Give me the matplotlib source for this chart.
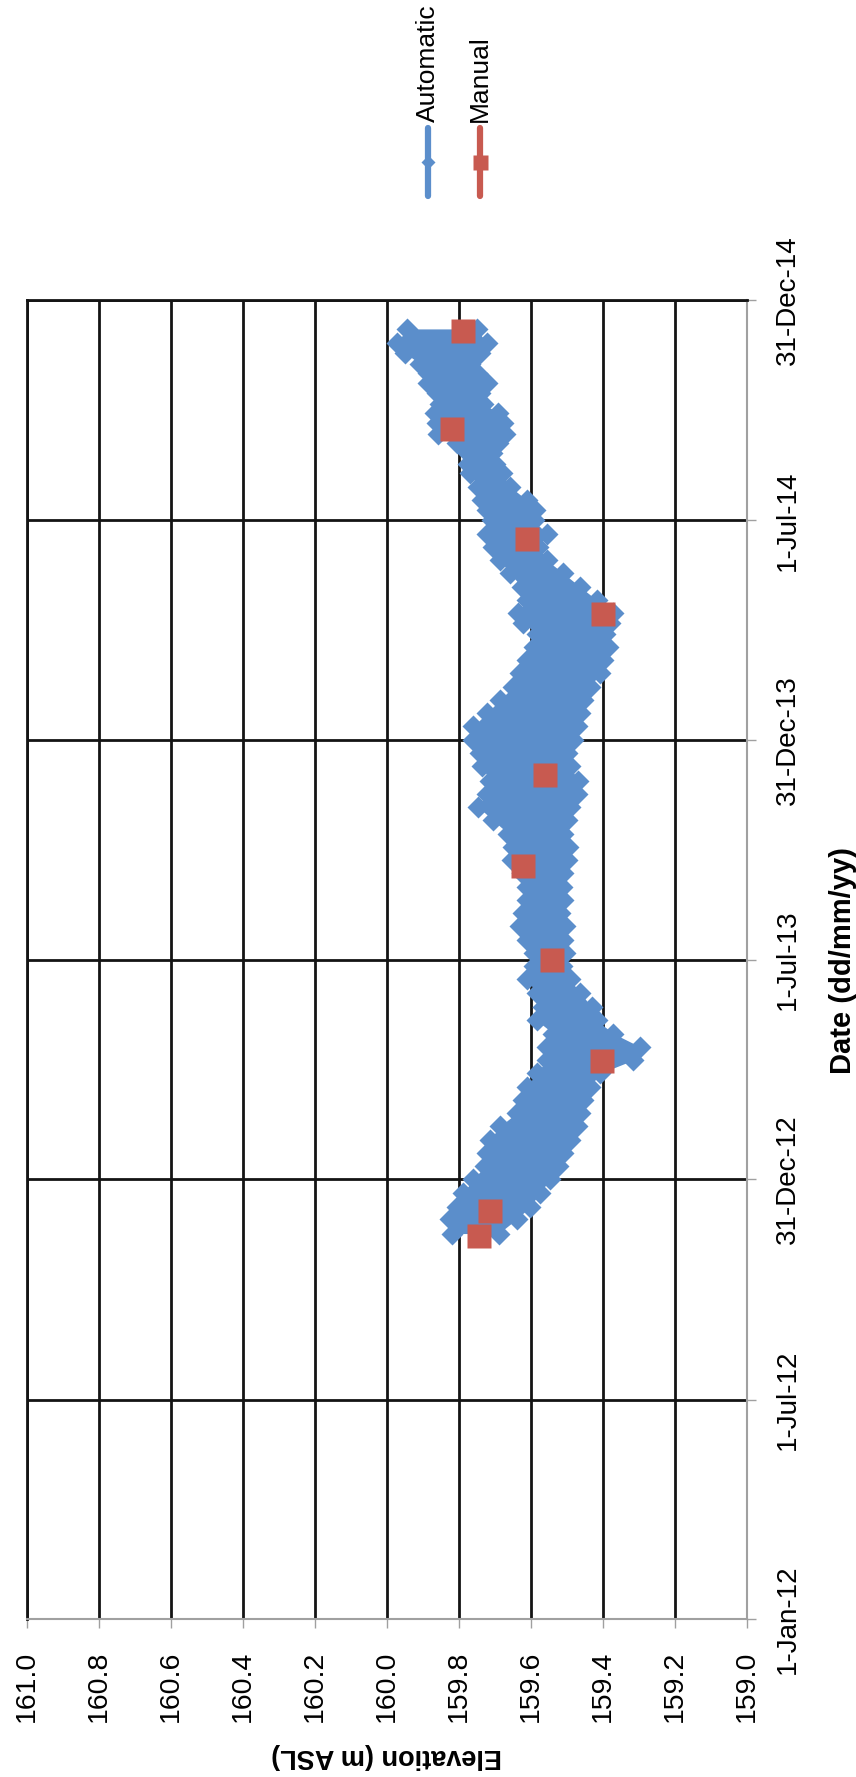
import matplotlib
matplotlib.use("Agg")
import matplotlib.pyplot as plt
import matplotlib.dates as mdates
from matplotlib.lines import Line2D
import pandas as pd

plt.rcParams['font.family'] = ['Liberation Sans', 'DejaVu Sans']

# ---------------- data ----------------
# Automatic logger: envelope of the daily readings (upper / lower elevation)
auto_dates = [
    "2012-11-16", "2012-11-28", "2012-12-08", "2012-12-20", "2012-12-31",
    "2013-01-11", "2013-01-22", "2013-02-02", "2013-02-13", "2013-02-24",
    "2013-03-07", "2013-03-18", "2013-03-29", "2013-04-09", "2013-04-20",
    "2013-05-01", "2013-05-12", "2013-05-23", "2013-06-04", "2013-06-15",
    "2013-06-26", "2013-07-07", "2013-07-18", "2013-07-29", "2013-08-09",
    "2013-08-20", "2013-08-31", "2013-09-11", "2013-09-22", "2013-10-03",
    "2013-10-14", "2013-10-25", "2013-11-05", "2013-11-16", "2013-11-27",
    "2013-12-09", "2013-12-20", "2013-12-31", "2014-01-11", "2014-01-22",
    "2014-02-02", "2014-02-13", "2014-02-24", "2014-03-07", "2014-03-18",
    "2014-03-29", "2014-04-07", "2014-04-15", "2014-04-26", "2014-05-07",
    "2014-05-18", "2014-05-29", "2014-06-09", "2014-06-20", "2014-07-01",
    "2014-07-10", "2014-07-18", "2014-07-29", "2014-08-09", "2014-08-17",
    "2014-08-26", "2014-09-03", "2014-09-11", "2014-09-20", "2014-09-28",
    "2014-10-06", "2014-10-15", "2014-10-23", "2014-10-31", "2014-11-08",
    "2014-11-17", "2014-11-25", "2014-12-07",
]
auto_high = [
    159.820, 159.825, 159.806, 159.788, 159.760,
    159.728, 159.723, 159.714, 159.686, 159.640,
    159.621, 159.612, 159.584, 159.556, 159.556,
    159.538, 159.584, 159.566, 159.584, 159.612,
    159.593, 159.593, 159.612, 159.631, 159.621,
    159.612, 159.612, 159.626, 159.654, 159.649,
    159.663, 159.705, 159.746, 159.723, 159.714,
    159.737, 159.742, 159.760, 159.760, 159.723,
    159.686, 159.649, 159.631, 159.612, 159.593,
    159.584, 159.621, 159.635, 159.612, 159.626,
    159.658, 159.686, 159.705, 159.723, 159.709,
    159.723, 159.737, 159.746, 159.769, 159.774,
    159.774, 159.806, 159.857, 159.862, 159.867,
    159.853, 159.862, 159.885, 159.885, 159.908,
    159.950, 159.973, 159.945,
]
auto_low = [
    159.690, 159.640, 159.603, 159.575, 159.547,
    159.524, 159.510, 159.492, 159.473, 159.464,
    159.455, 159.436, 159.408, 159.316, 159.297,
    159.371, 159.418, 159.431, 159.464, 159.492,
    159.515, 159.506, 159.510, 159.506, 159.519,
    159.510, 159.515, 159.510, 159.501, 159.496,
    159.510, 159.501, 159.492, 159.473, 159.469,
    159.492, 159.501, 159.482, 159.473, 159.464,
    159.455, 159.436, 159.408, 159.399, 159.385,
    159.394, 159.381, 159.371, 159.418, 159.464,
    159.510, 159.556, 159.580, 159.556, 159.593,
    159.589, 159.612, 159.658, 159.681, 159.700,
    159.709, 159.691, 159.672, 159.677, 159.691,
    159.732, 159.742, 159.723, 159.751, 159.769,
    159.742, 159.723, 159.751,
]

# Manual readings
manual_dates = ["2012-11-14", "2012-12-05", "2013-04-08", "2013-07-01", "2013-09-17",
                "2013-12-02", "2014-04-14", "2014-06-16", "2014-09-15", "2014-12-05"]
manual_elev = [159.744, 159.713, 159.404, 159.542, 159.621,
               159.561, 159.400, 159.612, 159.819, 159.789]

elev_ticks = [161.0, 160.8, 160.6, 160.4, 160.2, 160.0, 159.8, 159.6, 159.4, 159.2, 159.0]
date_ticks = ["2012-01-01", "2012-07-01", "2012-12-31", "2013-07-01",
              "2013-12-31", "2014-07-01", "2014-12-31"]
date_tick_labels = ["1-Jan-12", "1-Jul-12", "31-Dec-12", "1-Jul-13",
                    "31-Dec-13", "1-Jul-14", "31-Dec-14"]

series_names = ["Automatic", "Manual"]

# ---------------- style ----------------
BLUE = "#5B8ECB"
RED = "#C85A50"
GRID = "#141414"
AXIS = "#A0A0A0"

W, H = 856, 1777
fig = plt.figure(figsize=(W / 100, H / 100), dpi=100)
fig.patch.set_facecolor("white")

ax = fig.add_axes([27 / W, 1 - 1619 / H, (747 - 27) / W, (1619 - 300) / H])

ad = mdates.date2num(pd.to_datetime(auto_dates))
md = mdates.date2num(pd.to_datetime(manual_dates))
tick_num = mdates.date2num(pd.to_datetime(date_ticks))

# automatic band
ax.fill_betweenx(ad, auto_low, auto_high, color=BLUE, lw=0, zorder=2)
ax.plot(auto_high, ad, ls="none", marker="D", ms=11, color=BLUE, mec="none", zorder=2)
ax.plot(auto_low, ad, ls="none", marker="D", ms=11, color=BLUE, mec="none", zorder=2)
# manual markers
ax.plot(manual_elev, md, ls="none", marker="s", ms=17, color=RED, mec="none", zorder=3)

ax.set_xlim(161.0, 159.0)
ax.set_ylim(tick_num[0], tick_num[-1])

ax.set_xticks(elev_ticks)
ax.set_xticklabels([f"{v:.1f}" for v in elev_ticks], rotation=90, fontsize=20.5)
ax.yaxis.tick_right()
ax.set_yticks(tick_num)
ax.set_yticklabels(date_tick_labels, rotation=90, fontsize=20)
for lab in ax.get_yticklabels():
    lab.set_va("center")

ax.tick_params(axis="x", direction="out", length=6.5, width=1, color=AXIS, pad=16)
ax.tick_params(axis="y", direction="out", length=6.5, width=1, color=AXIS, pad=13.5,
               left=False, right=True)

ax.set_axisbelow(True)
ax.grid(True, color=GRID, lw=2.0)

for side in ("left", "top"):
    ax.spines[side].set_color(GRID)
    ax.spines[side].set_linewidth(2.0)
for side in ("right", "bottom"):
    ax.spines[side].set_color(AXIS)
    ax.spines[side].set_linewidth(1.5)

# axis titles (chart is rotated 90 degrees)
fig.text(387 / W, 1 - 1756 / H, "Elevation (m ASL)", rotation=180, ha="center",
         va="center", fontsize=19.5, fontweight="bold")
fig.text(843 / W, 1 - 960 / H, "Date (dd/mm/yy)", rotation=90, ha="center",
         va="center", fontsize=21, fontweight="bold")

# legend (rotated)
leg = [(428, BLUE, "D", 6.8, series_names[0]), (480, RED, "s", 10.8, series_names[1])]
for xp, col, mk, msz, name in leg:
    fig.add_artist(Line2D([xp / W, xp / W], [1 - 128 / H, 1 - 196 / H],
                          transform=fig.transFigure, color=col, lw=4.5,
                          solid_capstyle="round"))
    fig.add_artist(Line2D([xp / W], [1 - 162 / H], transform=fig.transFigure,
                          ls="none", marker=mk, ms=msz, color=col, mec="none"))
    fig.text(xp / W, 1 - 122 / H, name, rotation=90, ha="center", va="bottom",
             fontsize=19)

fig.savefig("out.png", dpi=100, facecolor="white")
